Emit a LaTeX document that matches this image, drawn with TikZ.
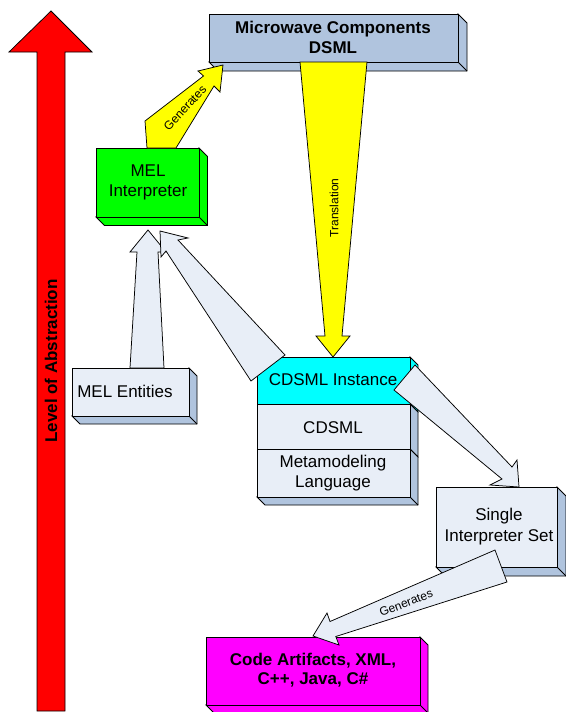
\documentclass[tikz,border=0pt]{standalone}
\usepackage{fontspec}
\setmainfont{Liberation Sans}
\definecolor{steel}{RGB}{176,196,222}
\definecolor{lightfront}{RGB}{232,238,247}
\definecolor{ygreen}{RGB}{0,255,0}
\definecolor{ycyan}{RGB}{0,255,255}
\definecolor{ymag}{RGB}{255,0,255}
\definecolor{yyellow}{RGB}{255,255,0}
\definecolor{yred}{RGB}{255,0,0}
\tikzset{
  edge/.style={draw=black, line width=0.75pt, line join=miter},
  lbl/.style={font=\fontsize{17}{20}\selectfont, align=center, inner sep=0pt},
  blbl/.style={font=\fontsize{17}{20}\selectfont\bfseries, align=center, inner sep=0pt},
  smalllbl/.style={font=\fontsize{12}{14}\selectfont, inner sep=0pt},
  blockarrow/.style={edge, fill=lightfront},
  yarrow/.style={edge, fill=yyellow},
}
% #1 L, #2 T, #3 R, #4 B, #5 depth, #6 front colour, #7 side colour
\newcommand\cubebox[7]{%
  \filldraw[edge, fill=#7] (#3,#2) -- ({#3+#5},{#2+#5}) -- ({#3+#5},{#4+#5}) -- ({#1+#5},{#4+#5}) -- (#1,#4) -- (#3,#4) -- cycle;
  \draw[edge] (#3,#4) -- ({#3+#5},{#4+#5});
  \filldraw[edge, fill=#6] (#1,#2) rectangle (#3,#4);
}
\begin{document}
\begin{tikzpicture}[x=1pt,y=-1pt]
\useasboundingbox (0,0) rectangle (565,712);

% level of abstraction arrow
\filldraw[edge, fill=yred] (37,711) -- (37,52) -- (9,52) -- (51,11) -- (92,52) -- (65,52) -- (65,711) -- cycle;
\node[blbl, rotate=90] (level) at (51,361) {Level of Abstraction};

% Microwave Components DSML
\cubebox{209}{14}{458}{62}{9}{steel}{steel}
\node[blbl] (dsml) at (333,37) {Microwave Components\\DSML};

% MEL Interpreter
\cubebox{96}{148}{199}{217}{8.5}{ygreen}{ygreen}
\node[lbl] (melint) at (148,182) {MEL\\Interpreter};

% MEL Entities
\cubebox{72}{368}{189}{416}{8}{lightfront}{steel}
\node[lbl] (melent) at (125,391) {MEL Entities};

% CDSML stack
\filldraw[edge, fill=ycyan] (410,357) -- (418,365) -- (418,412) -- (410,404) -- cycle;
\filldraw[edge, fill=steel] (410,404) -- (418,412) -- (418,457) -- (410,449) -- cycle;
\filldraw[edge, fill=steel] (410,449) -- (418,457) -- (418,505) -- (265,505) -- (257,497) -- (410,497) -- cycle;
\draw[edge] (410,497) -- (418,505);
\filldraw[edge, fill=ycyan] (257,357) rectangle (410,404);
\filldraw[edge, fill=lightfront] (257,404) rectangle (410,449);
\filldraw[edge, fill=lightfront] (257,449) rectangle (410,497);
\node[lbl] (inst) at (333,380) {CDSML Instance};
\node[lbl] (cdsml) at (333,428) {CDSML};
\node[lbl] (meta) at (333,473) {Metamodeling\\Language};

% Single Interpreter Set
\cubebox{436}{487}{557}{567}{9}{lightfront}{steel}
\node[lbl, font=\fontsize{17}{21}\selectfont] (single) at (499,527) {Single\\Interpreter Set};

% Code artifacts
\cubebox{206}{637}{420}{705}{8}{ymag}{ymag}
\node[blbl, font=\fontsize{17}{19}\selectfont\bfseries] (code) at (313,670) {Code Artifacts, XML,\\C++, Java, C\#};

% Translation arrow
\filldraw[yarrow] (300,62) -- (325,336) -- (316,336) -- (333,357) -- (350,336) -- (342,336) -- (367,62) -- cycle;
\node[smalllbl, rotate=90] (trans) at (334,208) {Translation};

% Generates (MEL Interpreter -> DSML)
\filldraw[yarrow] (147,148) -- (145,121) -- (203.5,76) -- (198,71) -- (223,65) -- (220,92) -- (214,86) -- (176,148) -- cycle;
\node[smalllbl, rotate=47] (gen1) at (185,108) {Generates};

% MEL Entities -> MEL Interpreter
\filldraw[blockarrow] (130,368) -- (137,252) -- (130,252) -- (148,230) -- (166,252) -- (158,252) -- (164,368) -- cycle;

% CDSML Instance -> MEL Interpreter
\filldraw[blockarrow] (251,381) -- (166,251) -- (161,257) -- (160,231) -- (188,238) -- (178,240) -- (285,355) -- cycle;

% CDSML Instance -> Single Interpreter Set
\filldraw[blockarrow] (415,365) -- (394,390) -- (502,479) -- (490,485) -- (519,487) -- (517,460) -- (512,467) -- cycle;

% Single Interpreter Set -> Code artifacts
\filldraw[blockarrow] (495,550) -- (330,621.5) -- (327,613) -- (313,636) -- (339,645) -- (335.8,636.5) -- (507,582) -- cycle;
\node[smalllbl, rotate=21] (gen2) at (406,603) {Generates};
\end{tikzpicture}
\end{document}
